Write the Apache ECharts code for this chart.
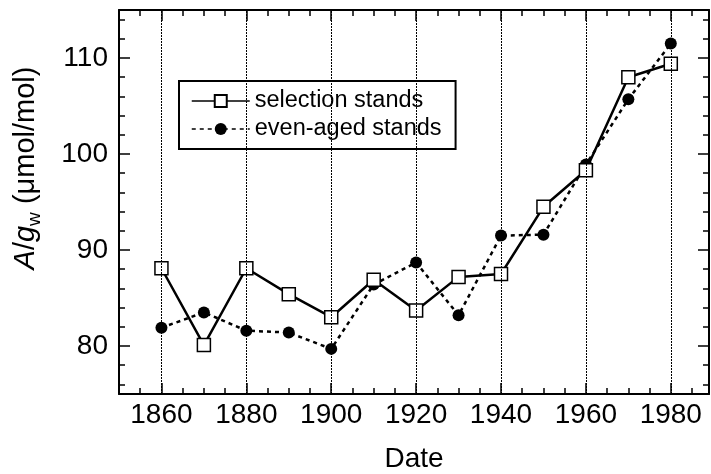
<!DOCTYPE html>
<html>
<head>
<meta charset="utf-8">
<script src="https://cdn.jsdelivr.net/npm/echarts@6/dist/echarts.min.js"></script>
<style>
  html, body { margin: 0; padding: 0; background: #fff; }
  #chart { width: 711px; height: 474px; }
</style>
</head>
<body>
<div id="chart"></div>
<script>
var years = [1860, 1870, 1880, 1890, 1900, 1910, 1920, 1930, 1940, 1950, 1960, 1970, 1980];
var selection = [88.1, 80.1, 88.1, 85.4, 83.0, 86.9, 83.7, 87.2, 87.5, 94.5, 98.3, 108.0, 109.4];
var evenAged = [81.9, 83.5, 81.6, 81.4, 79.7, 86.4, 88.7, 83.2, 91.5, 91.6, 98.9, 105.7, 111.5];
var xMajor = [1860, 1880, 1900, 1920, 1940, 1960, 1980];
var yMajor = [80, 90, 100, 110];

var FONT = 'Liberation Sans';
var X_MIN = 1850, X_MAX = 1989, Y_MIN = 75, Y_MAX = 115;

var xMinor = [], yMinor = [];
for (var x = 1855; x <= X_MAX; x += 5) xMinor.push(x);
for (var y = 76; y < Y_MAX; y += 2) yMinor.push(y);

function pairs(vals){
	var out = [];
	for (var i = 0; i < years.length; i++) out.push([years[i], vals[i]]);
	return out;
}

function plain(v){ return String(v); }

function tickAxis(pos, min, max, values, len, showLine){
	return {
		type: 'value', position: pos, min: min, max: max,
		axisLine: { show: showLine, onZero: false, lineStyle: { color: '#000', width: 2 } },
		axisTick: { show: true, inside: true, length: len, customValues: values,
			lineStyle: { color: '#000', width: 1.5 } },
		axisLabel: { show: false },
		splitLine: { show: false }
	};
}

var xBottom = tickAxis('bottom', X_MIN, X_MAX, xMinor, 6, true);
xBottom.axisLabel = { show: true, customValues: xMajor, formatter: plain, color: '#000',
	fontSize: 28, fontFamily: FONT, margin: 7 };
xBottom.name = 'Date';
xBottom.nameLocation = 'middle';
xBottom.nameGap = 51;
xBottom.nameTextStyle = { color: '#000', fontSize: 28, fontFamily: FONT };

var yLeft = tickAxis('left', Y_MIN, Y_MAX, yMinor, 6, true);
yLeft.axisLabel = { show: true, customValues: yMajor, formatter: plain, color: '#000',
	fontSize: 28, fontFamily: FONT, margin: 11 };
yLeft.name = '{i|A}/{i|g}{s|w} (μmol/mol)';
yLeft.nameLocation = 'middle';
yLeft.nameRotate = 90;
yLeft.nameGap = 75;
yLeft.nameTextStyle = {
	color: '#000', fontSize: 29, fontFamily: FONT, lineHeight: 36,
	padding: [0, 0, 0, 68],
	rich: {
		i: { fontStyle: 'italic', fontSize: 29, fontFamily: FONT, color: '#000', lineHeight: 36 },
		s: { fontSize: 19, fontFamily: FONT, color: '#000', lineHeight: 19, verticalAlign: 'bottom' }
	}
};

var option = {
	animation: false,
	backgroundColor: '#fff',
	grid: { left: 119, right: 2, top: 10, bottom: 80, outerBoundsMode: 'none' },
	legend: {
		data: ['selection stands', 'even-aged stands'],
		orient: 'vertical',
		left: 179, top: 81,
		padding: [8, 14, 8, 12],
		itemGap: 4,
		itemWidth: 58, itemHeight: 15,
		borderColor: '#000', borderWidth: 2,
		lineStyle: { width: 1.5 },
		textStyle: { color: '#000', fontSize: 23.5, fontFamily: FONT, lineHeight: 24 }
	},
	xAxis: [
		xBottom,
		tickAxis('bottom', X_MIN, X_MAX, xMajor, 11, false),
		tickAxis('top', X_MIN, X_MAX, xMinor, 6, true),
		tickAxis('top', X_MIN, X_MAX, xMajor, 11, false)
	],
	yAxis: [
		yLeft,
		tickAxis('left', Y_MIN, Y_MAX, yMajor, 11, false),
		tickAxis('right', Y_MIN, Y_MAX, yMinor, 6, true),
		tickAxis('right', Y_MIN, Y_MAX, yMajor, 11, false)
	],
	series: [
		{
			name: 'grid', type: 'line', data: [], z: 1, silent: true,
			markLine: {
				silent: true, symbol: ['none', 'none'], label: { show: false },
				lineStyle: { color: '#000', width: 1, type: [2, 1] },
				data: xMajor.map(function(v){ return { xAxis: v }; })
			}
		},
		{
			name: 'even-aged stands', type: 'line', z: 3,
			data: pairs(evenAged),
			symbol: 'circle', symbolSize: 12,
			itemStyle: { color: '#000' },
			lineStyle: { color: '#000', width: 2.5, type: [4, 4] }
		},
		{
			name: 'selection stands', type: 'line', z: 4,
			data: pairs(selection),
			symbol: 'rect', symbolSize: 13,
			itemStyle: { color: '#fff', borderColor: '#000', borderWidth: 1.5 },
			lineStyle: { color: '#000', width: 2.5 }
		}
	]
};

echarts.init(document.getElementById('chart')).setOption(option);
</script>
</body>
</html>
